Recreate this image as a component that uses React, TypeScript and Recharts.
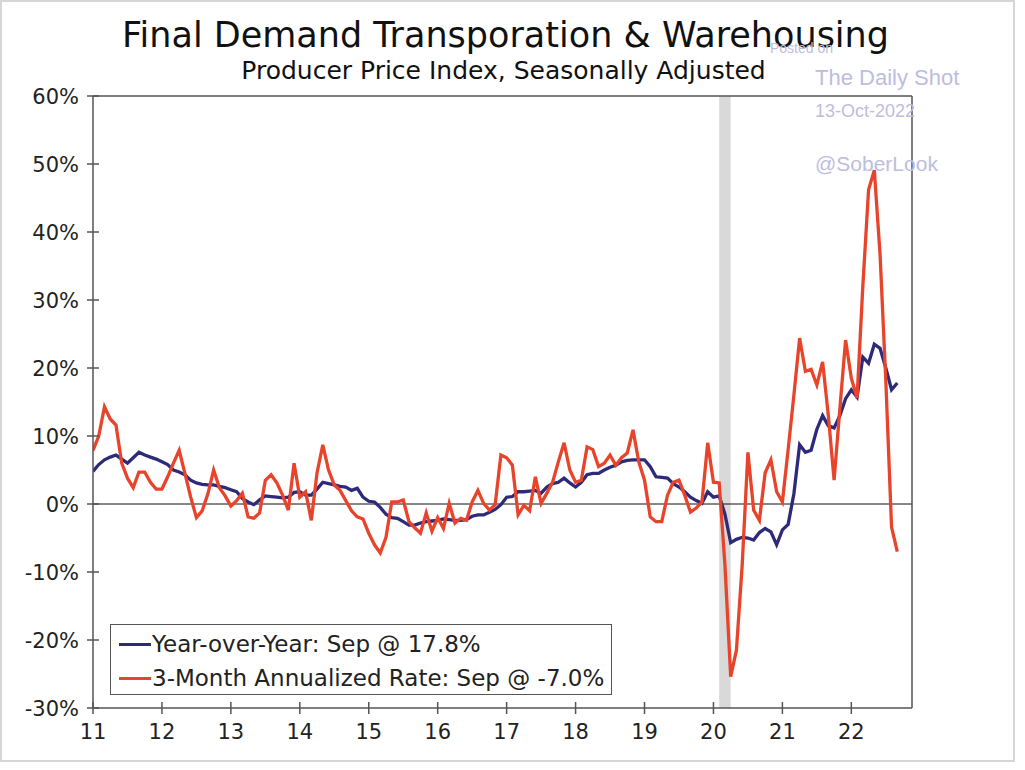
import React from 'react';
import {
  LineChart,
  Line,
  XAxis,
  YAxis,
  ReferenceLine,
  ReferenceArea
} from 'recharts';

// monthly, Jan 2011 .. Sep 2022
const yoy = [
  4.8, 5.8, 6.5, 6.9, 7.2, 6.6, 6.0, 6.8, 7.6, 7.2, 6.9, 6.6, // 2011
  6.2, 5.8, 5.0, 4.7, 4.3, 3.5, 3.1, 2.9, 2.8, 2.8, 2.6, 2.4, // 2012
  2.1, 1.8, 0.8, 0.3, -0.1, 0.6, 1.2, 1.1, 1.0, 0.9, 1.0, 1.7, // 2013
  1.8, 1.3, 1.3, 2.2, 3.2, 3.0, 2.8, 2.6, 2.5, 2.0, 2.3, 1.0, // 2014
  0.4, 0.3, -0.5, -1.5, -2.0, -2.1, -2.6, -3.1, -3.1, -2.8, -2.6, -2.5, // 2015
  -2.4, -2.2, -2.3, -2.4, -2.4, -2.3, -1.8, -1.6, -1.6, -1.2, -0.8, -0.1, // 2016
  1.0, 1.1, 1.8, 1.8, 1.9, 2.0, 1.6, 2.5, 3.0, 3.2, 3.8, 3.1, // 2017
  2.5, 3.2, 4.3, 4.5, 4.5, 5.0, 5.4, 5.7, 6.2, 6.4, 6.5, 6.5, // 2018
  6.5, 5.5, 4.0, 3.9, 3.8, 3.0, 2.5, 1.8, 1.0, 0.5, 0.1, 1.8, // 2019
  1.0, 1.2, -1.5, -5.7, -5.2, -4.9, -5.0, -5.3, -4.2, -3.6, -4.1, -6.0, // 2020
  -3.8, -3.0, 1.5, 8.7, 7.6, 7.9, 11.0, 13.0, 11.5, 11.2, 13.0, 15.5, // 2021
  16.8, 15.7, 21.6, 20.7, 23.5, 22.9, 20.0, 16.8, 17.8 // 2022
];

const ann3m = [
  7.9, 10.0, 14.3, 12.5, 11.6, 6.0, 3.8, 2.4, 4.7, 4.7, 3.2, 2.2, // 2011
  2.2, 4.0, 6.0, 7.9, 4.5, 1.0, -2.0, -1.0, 1.5, 5.0, 2.4, 1.2, // 2012
  -0.3, 0.5, 1.6, -1.9, -2.1, -1.3, 3.5, 4.3, 3.1, 1.3, -0.9, 6.0, // 2013
  1.0, 1.8, -2.4, 4.6, 8.7, 5.0, 2.8, 2.0, 0.5, -1.0, -1.9, -2.2, // 2014
  -4.3, -6.0, -7.2, -4.9, 0.3, 0.3, 0.6, -2.6, -3.5, -4.3, -1.3, -4.0, // 2015
  -2.0, -3.6, 0.1, -2.8, -2.1, -2.4, 0.3, 2.0, 0.1, -0.9, -0.1, 7.2, // 2016
  6.8, 5.7, -1.6, -0.2, -1.0, 4.0, 0.1, 1.6, 3.2, 6.2, 9.0, 5.0, // 2017
  3.2, 3.5, 8.4, 8.0, 5.5, 6.0, 7.2, 5.7, 6.8, 7.5, 10.9, 6.2, // 2018
  3.5, -1.9, -2.6, -2.6, 1.3, 3.2, 3.5, 1.3, -1.2, -0.6, 0.3, 9.0, // 2019
  3.2, 3.1, -9.0, -25.4, -21.5, -9.0, 7.6, -0.9, -2.4, 4.6, 6.5, 1.8, // 2020
  0.3, 8.0, 16.0, 24.4, 19.5, 19.8, 17.5, 20.9, 13.0, 3.5, 14.0, 24.1, // 2021
  18.5, 15.6, 32.0, 46.2, 49.1, 36.7, 18.2, -3.4, -7.0 // 2022
];

const yearTicks = [2011, 2012, 2013, 2014, 2015, 2016, 2017, 2018, 2019, 2020, 2021, 2022];
const pctTicks = [-30, -20, -10, 0, 10, 20, 30, 40, 50, 60];

const seriesNames = {
  yoy: 'Year-over-Year: Sep @ 17.8%',
  ann3m: '3-Month Annualized Rate: Sep @ -7.0%'
};

const data = yoy.map((v, i) => ({ t: 2011 + i / 12, yoy: v, ann3m: ann3m[i] }));

const BLUE = '#2d2a7a';
const RED = '#e8442b';
const AXIS = '#555';
const FONT = '"DejaVu Sans", Verdana, sans-serif';
const TICK_FS = 21;

const LeftTick = (props: any) => {
  const { x, y, payload } = props;
  const ax = x + 14;
  return (
    <g>
      <line x1={ax - 6} x2={ax + 6} y1={y} y2={y} stroke={AXIS} strokeWidth={1.5} />
      <text x={x} y={y} dy="0.36em" textAnchor="end" fontSize={TICK_FS} fill="#222" fontFamily={FONT}>
        {payload.value}%
      </text>
    </g>
  );
};

const RightTick = (props: any) => {
  const { x, y, payload } = props;
  const ax = x - 23;
  return (
    <g>
      <line x1={ax - 6} x2={ax + 6} y1={y} y2={y} stroke={AXIS} strokeWidth={1.5} />
      <text x={x} y={y} dy="0.36em" textAnchor="start" fontSize={TICK_FS} fill="#222" fontFamily={FONT}>
        {payload.value}%
      </text>
    </g>
  );
};

const BottomTick = (props: any) => {
  const { x, y, payload } = props;
  const ay = y - 12;
  return (
    <g>
      <line x1={x} x2={x} y1={ay - 6} y2={ay + 6} stroke={AXIS} strokeWidth={1.5} />
      <text x={x} y={y} dy="0.9em" textAnchor="middle" fontSize={TICK_FS} fill="#222" fontFamily={FONT}>
        {String(payload.value).slice(2)}
      </text>
    </g>
  );
};

const wm = { position: 'absolute' as const, color: '#bdbde0', fontFamily: '"Liberation Sans", Arial, sans-serif', whiteSpace: 'nowrap' as const };

const App: React.FC = () => {
  return (
    <div style={{ position: 'absolute', left: 0, top: 0, width: 1015, height: 762, background: '#fff', boxSizing: 'border-box', border: '2px solid #d6d6d6', fontFamily: FONT }}>
      <div style={{ position: 'absolute', left: 0, top: 0 }}>
        <LineChart width={1011} height={758} data={data} margin={{ top: 94, right: 31, left: 31, bottom: 12 }}>
          <ReferenceArea yAxisId="left" x1={2020 + 1 / 12} x2={2020 + 3 / 12} fill="#d9d9d9" fillOpacity={1} stroke="none" />
          <ReferenceLine yAxisId="left" y={60} stroke={AXIS} strokeWidth={1.5} />
          <ReferenceLine yAxisId="left" y={0} stroke="#111" strokeWidth={1} />
          <XAxis
            dataKey="t"
            type="number"
            domain={[2011, 2022.88]}
            ticks={yearTicks}
            allowDataOverflow
            height={40}
            tickSize={6}
            tickMargin={6}
            tickLine={false}
            tick={<BottomTick />}
            axisLine={{ stroke: AXIS, strokeWidth: 1.5 }}
          />
          <YAxis
            yAxisId="left"
            domain={[-30, 60]}
            ticks={pctTicks}
            width={60}
            tickSize={6}
            tickMargin={8}
            tickLine={false}
            tick={<LeftTick />}
            axisLine={{ stroke: AXIS, strokeWidth: 1.5 }}
          />
          <YAxis
            yAxisId="right"
            orientation="right"
            domain={[-30, 60]}
            ticks={pctTicks}
            width={70}
            tickSize={6}
            tickMargin={17}
            tickLine={false}
            tick={<RightTick />}
            axisLine={{ stroke: AXIS, strokeWidth: 1.5 }}
          />
          <Line yAxisId="left" type="linear" dataKey="yoy" name={seriesNames.yoy} stroke={BLUE} strokeWidth={3.3} dot={false} isAnimationActive={false} />
          <Line yAxisId="left" type="linear" dataKey="ann3m" name={seriesNames.ann3m} stroke={RED} strokeWidth={3.3} dot={false} isAnimationActive={false} />
        </LineChart>
      </div>

      {/* titles */}
      <div style={{ position: 'absolute', left: 0, width: 1007, top: 12, textAlign: 'center', fontSize: 35, color: '#111', lineHeight: '42px' }}>
        Final Demand Transporation &amp; Warehousing
      </div>
      <div style={{ position: 'absolute', left: 0, width: 1003, top: 54, textAlign: 'center', fontSize: 25, color: '#111', lineHeight: '30px' }}>
        Producer Price Index, Seasonally Adjusted
      </div>

      {/* watermark */}
      <div style={{ ...wm, left: 768, top: 38, fontSize: 14 }}>Posted on</div>
      <div style={{ ...wm, left: 813, top: 63, fontSize: 22 }}>The Daily Shot</div>
      <div style={{ ...wm, left: 813, top: 99, fontSize: 18 }}>13-Oct-2022</div>
      <div style={{ ...wm, left: 813, top: 150, fontSize: 21 }}>@SoberLook</div>

      {/* legend */}
      <div style={{ position: 'absolute', left: 108, top: 622, width: 502, height: 71, boxSizing: 'border-box', border: '1.5px solid #555', background: '#fff', fontSize: 23, color: '#222' }}>
        {[
          { name: seriesNames.yoy, color: BLUE },
          { name: seriesNames.ann3m, color: RED }
        ].map((e, i) => (
          <div key={i} style={{ position: 'absolute', left: 8, top: 4 + i * 34, height: 30, display: 'flex', alignItems: 'center', whiteSpace: 'nowrap' }}>
            <span style={{ display: 'inline-block', width: 32, height: 3, background: e.color, marginRight: 1 }} />
            <span>{e.name}</span>
          </div>
        ))}
      </div>
    </div>
  );
};

export default App;
